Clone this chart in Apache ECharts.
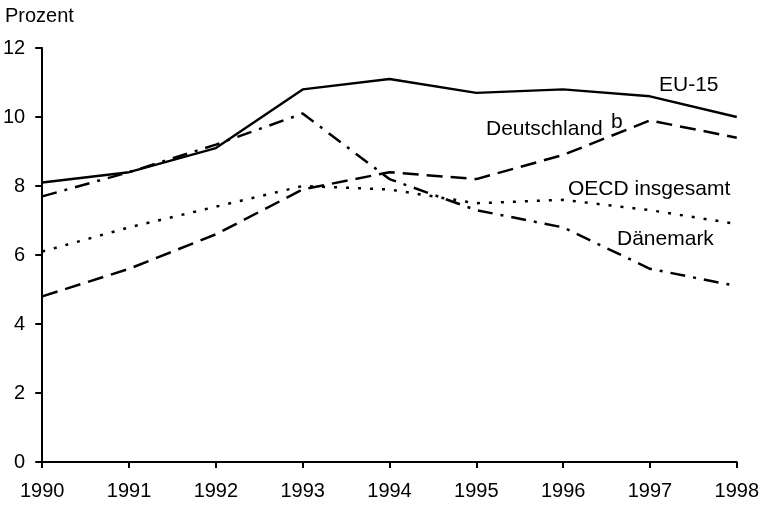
<!DOCTYPE html>
<html>
<head>
<meta charset="utf-8">
<script src="https://cdn.jsdelivr.net/npm/echarts@6/dist/echarts.min.js"></script>
<style>
  html, body { margin: 0; padding: 0; background: #fff; }
  #chart { width: 762px; height: 505px; }
</style>
</head>
<body>
<div id="chart"></div>
<script>
// Jahre und Arbeitslosenquoten (Prozent)
var years = ['1990', '1991', '1992', '1993', '1994', '1995', '1996', '1997', '1998'];
var eu15 = [8.1, 8.4, 9.1, 10.8, 11.1, 10.7, 10.8, 10.6, 10.0];
var deutschland = [4.8, 5.6, 6.6, 7.9, 8.4, 8.2, 8.9, 9.9, 9.4];
var oecd = [6.1, 6.8, 7.4, 8.0, 7.9, 7.5, 7.6, 7.3, 6.9];
var daenemark = [7.7, 8.4, 9.2, 10.1, 8.2, 7.3, 6.8, 5.6, 5.1];

var chart = echarts.init(document.getElementById('chart'));
var font = '"Liberation Sans", Arial, sans-serif';

var option = {
  animation: false,
  backgroundColor: '#fff',
  grid: { left: 42, right: 23, top: 48, bottom: 43 },
  xAxis: {
    type: 'category',
    data: years,
    boundaryGap: false,
    axisLine: { lineStyle: { color: '#000', width: 2 } },
    axisTick: { alignWithLabel: true, length: 6, lineStyle: { color: '#000', width: 2 } },
    axisLabel: { color: '#000', fontSize: 20, fontFamily: font, margin: 19 },
    splitLine: { show: false }
  },
  yAxis: {
    type: 'value',
    min: 0,
    max: 12,
    interval: 2,
    axisLine: { show: true, lineStyle: { color: '#000', width: 2 } },
    axisTick: { show: true, length: 7, lineStyle: { color: '#000', width: 2 } },
    axisLabel: { color: '#000', fontSize: 20, fontFamily: font, margin: 17 },
    splitLine: { show: false }
  },
  graphic: [
    { type: 'text', left: 5, top: 6, style: { text: 'Prozent', fill: '#000', font: '20px ' + font } },
    { type: 'text', left: 659, top: 75, style: { text: 'EU-15', fill: '#000', font: '21px ' + font } },
    { type: 'text', left: 486, top: 119, style: { text: 'Deutschland', fill: '#000', font: '21px ' + font } },
    { type: 'text', left: 611, top: 112, style: { text: 'b', fill: '#000', font: '21px ' + font } },
    { type: 'text', left: 568, top: 179, style: { text: 'OECD insgesamt', fill: '#000', font: '21px ' + font } },
    { type: 'text', left: 617, top: 229, style: { text: 'Dänemark', fill: '#000', font: '21px ' + font } }
  ],
  series: [
    {
      name: 'EU-15', type: 'line', data: eu15, symbol: 'none',
      lineStyle: { color: '#000', width: 2.4, type: 'solid' }
    },
    {
      name: 'Deutschland', type: 'line', data: deutschland, symbol: 'none',
      lineStyle: { color: '#000', width: 2.5, type: [16, 8] }
    },
    {
      name: 'OECD insgesamt', type: 'line', data: oecd, symbol: 'none',
      lineStyle: { color: '#000', width: 2.5, type: [3, 9] }
    },
    {
      name: 'Dänemark', type: 'line', data: daenemark, symbol: 'none',
      lineStyle: { color: '#000', width: 2.5, type: [15, 8, 3, 8] }
    }
  ]
};

chart.setOption(option);
</script>
</body>
</html>
